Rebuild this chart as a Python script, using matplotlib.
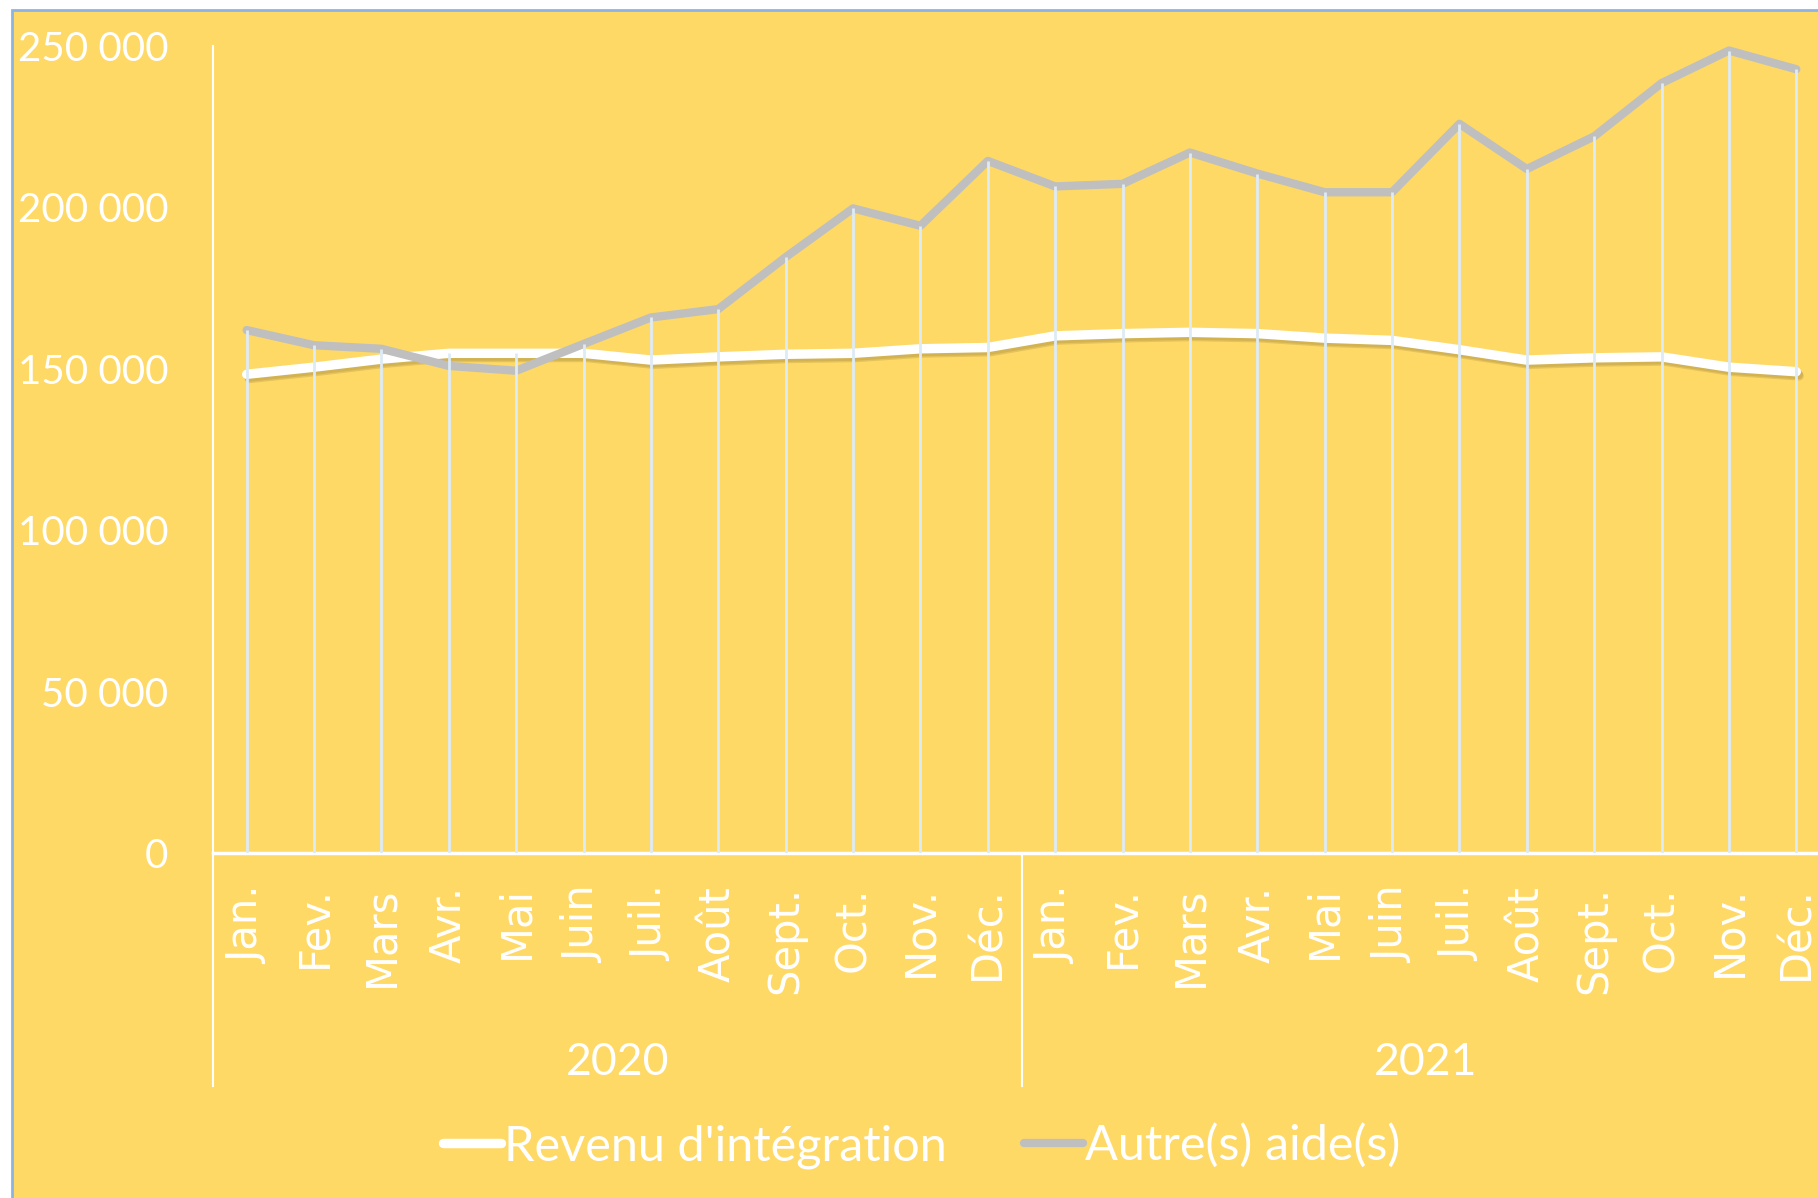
import matplotlib
matplotlib.use("Agg")
import matplotlib.pyplot as plt
import matplotlib.patheffects as pe
from matplotlib.patches import Rectangle
import numpy as np

months = ["Jan.", "Fev.", "Mars", "Avr.", "Mai", "Juin", "Juil.", "Août",
          "Sept.", "Oct.", "Nov.", "Déc."]
years = ["2020", "2021"]
labels = months * len(years)

revenu = [148300, 150500, 153000, 154800, 154800, 154800, 152700, 153700,
          154500, 154800, 156200, 156600,
          160200, 160900, 161300, 160900, 159500, 158800, 155900, 152700,
          153400, 153700, 150500, 149100]
autres = [162000, 157300, 156200, 150900, 149400, 157700, 165900, 168500,
          184600, 199700, 194300, 214400,
          206500, 207300, 217000, 210500, 204700, 204700, 225900, 211900,
          222000, 238500, 248600, 242800]

bg = "#FFD966"
drop_col = "#DDEBF7"
grey = "#BFBFBF"
lab_font = "Lato"

fig = plt.figure(figsize=(18.18, 11.98), dpi=100, facecolor="white")
fig.patches.append(Rectangle((12 / 1818, -0.05), 1.1, 1.05 - 10 / 1198,
                             transform=fig.transFigure, facecolor=bg,
                             edgecolor="#8DB3E2", lw=2, zorder=-10))

ax = fig.add_axes([213 / 1818, 1 - 853 / 1198, 1617 / 1818, 807 / 1198])
ax.set_facecolor("none")
ax.set_zorder(2)

x = np.arange(len(labels))

# soft shadow under the white line
shadow = [pe.SimpleLineShadow(offset=(2, -3), shadow_color="#8a7430", alpha=0.22),
          pe.SimpleLineShadow(offset=(1.5, -2), shadow_color="#8a7430", alpha=0.2),
          pe.Normal()]
ax.plot(x, revenu, color="white", lw=6.8, solid_capstyle="round",
        solid_joinstyle="round", zorder=3, label="Revenu d'intégration",
        path_effects=shadow)
ax.plot(x, autres, color=grey, lw=6.0, solid_capstyle="round",
        solid_joinstyle="round", zorder=3, label="Autre(s) aide(s)")

# drop lines from the highest point down to the axis
ax.vlines(x, 0, np.maximum(revenu, autres), color=drop_col, lw=2.0, zorder=4)

ax.set_xlim(-0.5, len(labels) - 0.5)
ax.set_ylim(0, 250000)
ax.set_yticks(np.arange(0, 250001, 50000))
ax.set_yticklabels([f"{v:,}".replace(",", " ") for v in range(0, 250001, 50000)])
ax.tick_params(axis="y", length=0, pad=32, labelcolor="white", labelsize=29)
for t in ax.get_yticklabels():
    t.set_fontfamily(lab_font)

ax.set_xticks(x)
ax.set_xticklabels(labels, rotation=90, fontsize=30, color="white",
                   fontfamily="DejaVu Sans")
ax.tick_params(axis="x", length=0, pad=24)

for s in ["top", "right"]:
    ax.spines[s].set_visible(False)
ax.spines["left"].set_color("white")
ax.spines["left"].set_linewidth(1.5)
ax.spines["bottom"].set_color("white")
ax.spines["bottom"].set_linewidth(2.5)

# multi-level category separators and year labels
trans = ax.get_xaxis_transform()
for sx in [-0.5, 11.5, 23.5]:
    ax.plot([sx, sx], [0, -0.289], color="white", lw=1.5, transform=trans,
            clip_on=False)
for i, yr in enumerate(years):
    ax.text(5.5 + 12 * i, -0.259, yr, transform=trans, ha="center",
            va="center", color="white", fontsize=32, fontfamily=lab_font)

leg = fig.legend(loc="center", bbox_to_anchor=(0.507, 1 - 1146 / 1198), ncol=2,
                 frameon=False, handlelength=1.2, handletextpad=0.05,
                 columnspacing=1.6, prop={"family": lab_font, "size": 35})
for t in leg.get_texts():
    t.set_color("white")
for ln in leg.get_lines():
    ln.set_path_effects([])

fig.savefig("out.png", dpi=100, facecolor="white")
